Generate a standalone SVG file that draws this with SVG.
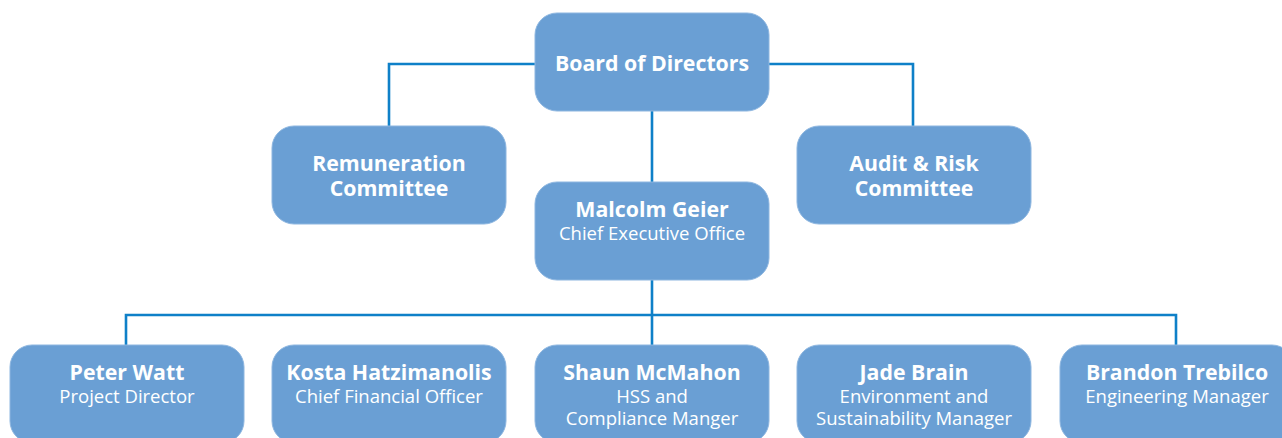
<svg xmlns="http://www.w3.org/2000/svg" width="1282" height="438" viewBox="0 0 1282 438">
<style>
.box{fill:#6a9fd4;stroke:#8db6e0;stroke-width:1}
.ln{fill:none;stroke:#0f80c8;stroke-width:2.6}
text{font-family:"Open Sans","Noto Sans",sans-serif;fill:#ffffff;text-anchor:middle}
.b{font-weight:bold;font-size:21.3px}
.r{font-size:18.5px}
</style>
<rect width="1282" height="438" fill="#ffffff"/>
<g id="connectors">
<path class="ln" d="M535 64 H389 V126"/>
<path class="ln" d="M769 64 H913 V126"/>
<path class="ln" d="M652 111 V182"/>
<path class="ln" d="M652 280 V345"/>
<path class="ln" d="M126 345 V315 H1176 V345"/>
</g>
<g id="board"><rect class="box" x="535" y="13" width="234" height="98" rx="22"/><text class="b" x="652" y="71">Board of Directors</text></g>
<g id="remuneration"><rect class="box" x="272" y="126" width="234" height="98" rx="22"/><text class="b" x="389" y="171">Remuneration</text><text class="b" x="389" y="196">Committee</text></g>
<g id="audit"><rect class="box" x="797" y="126" width="234" height="98" rx="22"/><text class="b" x="914" y="171">Audit &amp; Risk</text><text class="b" x="914" y="196">Committee</text></g>
<g id="ceo"><rect class="box" x="535" y="182" width="234" height="98" rx="22"/><text class="b" x="652" y="217">Malcolm Geier</text><text class="r" x="652" y="240">Chief Executive Office</text></g>
<g id="peter"><rect class="box" x="10" y="345" width="234" height="98" rx="22"/><text class="b" x="127" y="380">Peter Watt</text><text class="r" x="127" y="403">Project Director</text></g>
<g id="kosta"><rect class="box" x="272" y="345" width="234" height="98" rx="22"/><text class="b" x="389" y="380">Kosta Hatzimanolis</text><text class="r" x="389" y="403">Chief Financial Officer</text></g>
<g id="shaun"><rect class="box" x="535" y="345" width="234" height="98" rx="22"/><text class="b" x="652" y="380">Shaun McMahon</text><text class="r" x="652" y="403">HSS and</text><text class="r" x="652" y="425">Compliance Manger</text></g>
<g id="jade"><rect class="box" x="797" y="345" width="234" height="98" rx="22"/><text class="b" x="914" y="380">Jade Brain</text><text class="r" x="914" y="403">Environment and</text><text class="r" x="914" y="425">Sustainability Manager</text></g>
<g id="brandon"><rect class="box" x="1060" y="345" width="234" height="98" rx="22"/><text class="b" x="1177" y="380">Brandon Trebilco</text><text class="r" x="1177" y="403">Engineering Manager</text></g>
</svg>
